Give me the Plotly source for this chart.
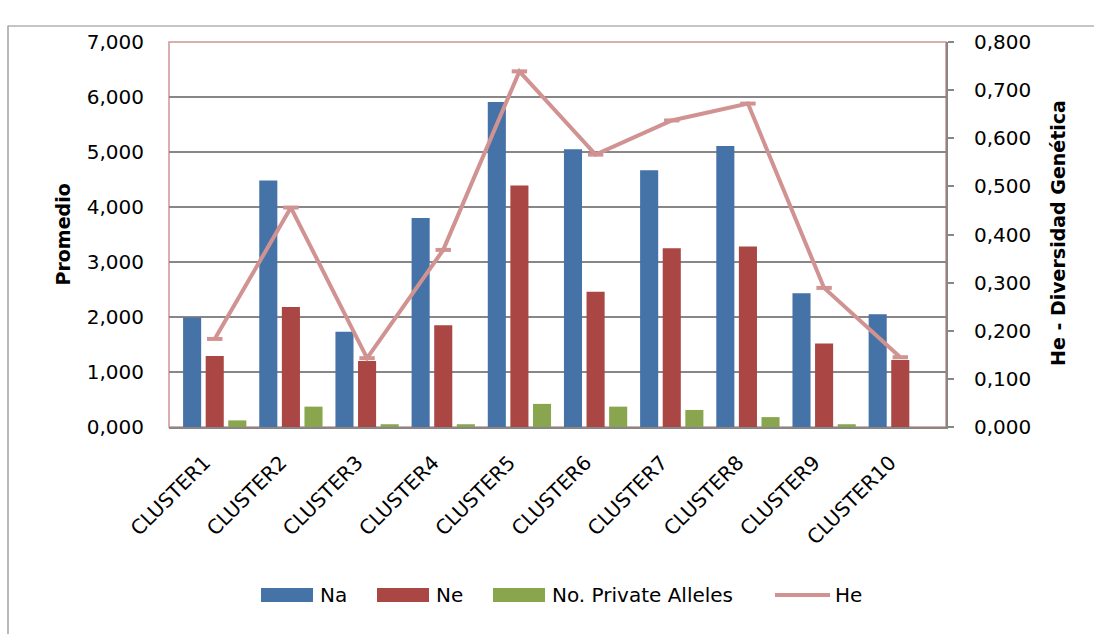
import plotly.graph_objects as go

# Genetic diversity summary per cluster
clusters = ["CLUSTER1", "CLUSTER2", "CLUSTER3", "CLUSTER4", "CLUSTER5",
            "CLUSTER6", "CLUSTER7", "CLUSTER8", "CLUSTER9", "CLUSTER10"]
na = [1.99, 4.48, 1.73, 3.80, 5.91, 5.05, 4.67, 5.11, 2.43, 2.05]
ne = [1.29, 2.18, 1.20, 1.85, 4.39, 2.46, 3.25, 3.28, 1.52, 1.22]
private_alleles = [0.12, 0.37, 0.05, 0.05, 0.42, 0.37, 0.31, 0.18, 0.05, 0.0]
he = [0.183, 0.456, 0.143, 0.368, 0.739, 0.566, 0.637, 0.672, 0.289, 0.145]

left_ticks = [0, 1, 2, 3, 4, 5, 6, 7]
right_ticks = [0.0, 0.1, 0.2, 0.3, 0.4, 0.5, 0.6, 0.7, 0.8]

C_NA = "#4572A7"
C_NE = "#AA4643"
C_PA = "#89A54E"
C_HE = "#D09392"
GRID = "#878787"
FONT = "DejaVu Sans"

W, H = 1094, 634
L, R, T, B = 169, 148, 42, 207
PW, PH = W - L - R, H - T - B


def px_x(px):
    return (px - L) / PW


def px_y(py):
    return (H - B - py) / PH


fig = go.Figure()
fig.add_trace(go.Bar(x=clusters, y=na, name="Na", marker=dict(color=C_NA, line=dict(width=0))))
fig.add_trace(go.Bar(x=clusters, y=ne, name="Ne", marker=dict(color=C_NE, line=dict(width=0))))
fig.add_trace(go.Bar(x=clusters, y=private_alleles, name="No. Private Alleles",
                     marker=dict(color=C_PA, line=dict(width=0))))
fig.add_trace(go.Scatter(x=clusters, y=he, name="He", yaxis="y2", mode="lines+markers",
                         line=dict(color=C_HE, width=4),
                         marker=dict(symbol="line-ew", size=11, color=C_HE,
                                     line=dict(color=C_HE, width=4))))

shapes = [
    # plot-area border
    dict(type="rect", xref="paper", yref="paper", x0=0, x1=1, y0=0, y1=1,
         line=dict(color=C_HE, width=1.5), layer="between"),
    # chart frame
    dict(type="rect", xref="paper", yref="paper", x0=px_x(8), x1=px_x(1200),
         y0=px_y(700), y1=px_y(26), line=dict(color="#8c8c8c", width=1.2), layer="below"),
]

annotations = [
    dict(text="<b>Promedio</b>", xref="paper", yref="paper", x=px_x(62), y=0.5,
         textangle=-90, showarrow=False, font=dict(family=FONT, size=19, color="black"),
         xanchor="center", yanchor="middle"),
    dict(text="<b>He - Diversidad Genética</b>", xref="paper", yref="paper", x=px_x(1058),
         y=px_y(233), textangle=-90, showarrow=False,
         font=dict(family=FONT, size=19, color="black"), xanchor="center", yanchor="middle"),
]

# legend
leg_y = 595
box_items = [("Na", C_NA, 261), ("Ne", C_NE, 377), ("No. Private Alleles", C_PA, 493)]
for label, color, x0 in box_items:
    shapes.append(dict(type="rect", xref="paper", yref="paper", x0=px_x(x0), x1=px_x(x0 + 52),
                       y0=px_y(leg_y + 7), y1=px_y(leg_y - 7), fillcolor=color,
                       line=dict(width=0)))
    annotations.append(dict(text=label, xref="paper", yref="paper", x=px_x(x0 + 57), y=px_y(leg_y),
                            xanchor="left", yanchor="middle", showarrow=False,
                            font=dict(family=FONT, size=20, color="black")))
shapes.append(dict(type="line", xref="paper", yref="paper", x0=px_x(775), x1=px_x(830),
                   y0=px_y(leg_y), y1=px_y(leg_y), line=dict(color=C_HE, width=4)))
annotations.append(dict(text="He", xref="paper", yref="paper", x=px_x(833), y=px_y(leg_y),
                        xanchor="left", yanchor="middle", showarrow=False,
                        font=dict(family=FONT, size=20, color="black")))

fig.update_layout(
    width=W, height=H,
    margin=dict(l=L, r=R, t=T, b=B, autoexpand=False),
    paper_bgcolor="white", plot_bgcolor="white",
    barmode="group", bargap=0.11, bargroupgap=0.2,
    separators=", ",
    showlegend=False,
    font=dict(family=FONT, size=20, color="black"),
    xaxis=dict(type="category", tickangle=-45, showline=True, linecolor=GRID, linewidth=2,
               ticks="", showgrid=False, tickfont=dict(size=20), ticklabelstandoff=14,
               ticklabelshift=-10, automargin=False),
    yaxis=dict(range=[0, 7], tickvals=left_ticks, tickformat=".3f", showgrid=True,
               gridcolor=GRID, gridwidth=1.5, zeroline=False, showline=False, ticks="",
               ticklabelstandoff=24, tickfont=dict(size=20), automargin=False),
    yaxis2=dict(range=[0, 0.8], tickvals=right_ticks, tickformat=".3f", overlaying="y",
                side="right", showgrid=False, zeroline=False, showline=True, linecolor=GRID,
                linewidth=2, ticks="outside", ticklen=6, tickcolor=GRID, tickwidth=1.5,
                ticklabelstandoff=16, tickfont=dict(size=20), automargin=False),
    shapes=shapes,
    annotations=annotations,
)

fig.write_html("out.html")
